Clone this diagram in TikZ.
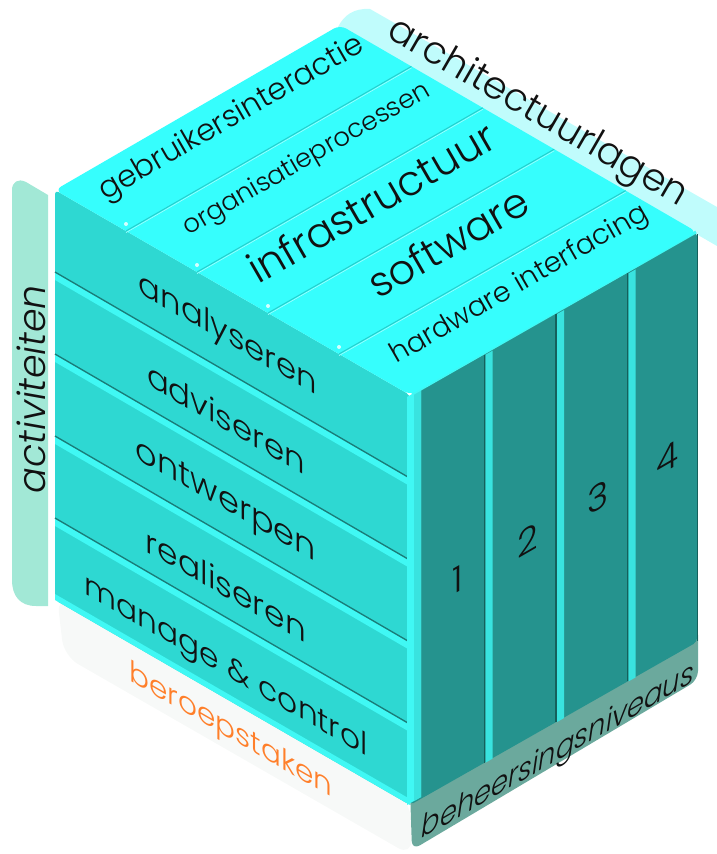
\documentclass[tikz,border=0pt]{standalone}
\usepackage{fontspec}
\setmainfont{Poppins}[UprightFont={* Light}, ItalicFont={* Light Italic}]
\usepackage{graphicx}
\newcommand{\fitw}[2]{\resizebox{#1pt}{!}{#2}}
\definecolor{topc}{HTML}{36FEFD}
\definecolor{leftc}{HTML}{2ED8D2}
\definecolor{lipc}{HTML}{40F8F4}
\definecolor{sepc}{HTML}{1A7C78}
\definecolor{rightc}{HTML}{25938E}
\definecolor{rlipc}{HTML}{39E3DF}
\definecolor{rdark}{HTML}{15605C}
\definecolor{behc}{HTML}{6BA99D}
\definecolor{archc}{HTML}{C0FCFC}
\definecolor{actc}{HTML}{A2E8D6}
\definecolor{shadc}{HTML}{F7F9F8}
\definecolor{orangec}{HTML}{FF7F2A}
\definecolor{divc}{HTML}{25CFCD}
\definecolor{txtc}{HTML}{111111}
\tikzset{
  lbl/.style={inner sep=0pt, text=txtc},
  leftlbl/.style={lbl, yslant=-0.577},
  rightlbl/.style={lbl, yslant=0.577},
  toplbl/.style={lbl, rotate=30},
  seprow/.style={draw=sepc, line width=1.3pt},
  divline/.style={draw=divc, line width=1pt},
  coldark/.style={draw=rdark, line width=1.4pt},
}
\begin{document}
\begin{tikzpicture}[x=1pt,y=-1pt]
\useasboundingbox (0,0) rectangle (717,854);

% shadow band below left face (beroepstaken)
\fill[shadc, rounded corners=16] (57,596) -- (410,801) -- (412,856) -- (64,656) -- cycle;

% activiteiten bar
\fill[actc] (48,195) -- (48,606) -- (36,606) .. controls (20,606) and (12,596) .. (12,580)
  -- (12,190) .. controls (12,182) and (18,178) .. (26,182) -- cycle;

% architectuurlagen band
\fill[archc] (338,27) .. controls (344,15) and (354,8) .. (370,9) -- (717,207) -- (717,246) -- cycle;

% beheersingsniveaus band
\fill[behc, rounded corners=9] (410,790) -- (698,626) -- (698,680) -- (412,850) -- cycle;

% cube faces
\coordinate (L) at (55,190);
\coordinate (B) at (340,25);
\coordinate (R) at (697,232);
\coordinate (F) at (410,395);
\coordinate (Lb) at (55,600);
\coordinate (Fb) at (410,805);
\coordinate (Rb) at (697,642);

\fill[leftc, rounded corners=4] (L) -- (F) -- (Fb) -- (Lb) -- cycle;
\fill[rightc, rounded corners=4] (F) -- (R) -- (Rb) -- (Fb) -- cycle;

% left face rows
\foreach \k in {1,2,3,4}{
  \fill[lipc] (55,{191+82*\k}) -- (408,{396+82*\k}) -- (408,{403+82*\k}) -- (55,{198+82*\k}) -- cycle;
  \draw[seprow] (55,{190+82*\k}) -- (408,{395+82*\k});
}
% bottom lip of left face
\fill[lipc] (55,594) -- (410,799) -- (410,805) -- (55,600) -- cycle;

% front vertical edge bevel
\fill[lipc] (407,397) -- (421,389) -- (421,797) -- (407,805) -- cycle;
\fill[rlipc] (414,393) -- (421,389) -- (421,797) -- (414,801) -- cycle;

% right face columns
\foreach \j in {1,2,3}{
  \pgfmathsetmacro{\xa}{413+71.5*\j}
  \pgfmathsetmacro{\ya}{395-(\xa-410)*0.568}
  \fill[rlipc] (\xa+1,\ya+2) -- (\xa+8,\ya-2) -- (\xa+8,\ya+406) -- (\xa+1,\ya+410) -- cycle;
  \draw[coldark] (\xa,\ya+2) -- (\xa,\ya+410);
}
\draw[rdark, line width=0.8pt] (697,234) -- (697,641);
% top edge highlight of right face
\draw[lipc, line width=3pt] (412,394) -- (696,232);

% top face
\fill[topc, rounded corners=7] (L) -- (B) -- (R) -- (F) -- cycle;
\foreach \k in {1,2,3,4}{
  \draw[divline] ({55+71*\k},{190+41*\k}) -- ({340+71.4*\k},{25+41.4*\k});
  \draw[white!55!topc, line width=0.6pt] ({55+71*\k},{191.6+41*\k}) -- ({340+71.4*\k},{26.6+41.4*\k});
  \fill[white, opacity=0.8] ({55+71*\k},{183+41*\k}) circle (2);
}

% top face labels
\node[toplbl] (t1) at (232,119) {\fitw{300}{gebruikersinteractie}};
\node[toplbl] (t2) at (307,160) {\fitw{280}{organisatieprocessen}};
\node[toplbl] (t3) at (371,202) {\fitw{278}{infrastructuur}};
\node[toplbl] (t4) at (448,242) {\fitw{178}{software}};
\node[toplbl] (t5) at (520,285) {\fitw{292}{hardware interfacing}};

% architectuurlagen
\node[lbl, rotate=-30] (arch) at (537,114) {\fitw{340}{architectuurlagen}};

% left face labels
\node[leftlbl] (a1) at (228,336) {\fitw{178}{analyseren}};
\node[leftlbl] (a2) at (226,418) {\fitw{158}{adviseren}};
\node[leftlbl] (a3) at (226,503) {\fitw{180}{ontwerpen}};
\node[leftlbl] (a4) at (226,585) {\fitw{160}{realiseren}};
\node[leftlbl] (a5) at (226,668) {\fitw{283}{manage \& control}};

% beroepstaken
\node[lbl, yslant=-0.577, text=orangec] (ber) at (231,732) {\fitw{203}{beroepstaken}};

% activiteiten
\node[lbl, rotate=90] (act) at (31,389) {\fitw{208}{\itshape activiteiten}};

% beheersingsniveaus
\node[rightlbl] (beh) at (558,753) {\resizebox{272pt}{23pt}{\itshape beheersingsniveaus}};

% column numbers
\node[rightlbl, font=\fontsize{36}{36}\selectfont] (n1) at (458,580) {1};
\node[rightlbl, font=\fontsize{36}{36}\selectfont] (n2) at (528,540) {2};
\node[rightlbl, font=\fontsize{36}{36}\selectfont] (n3) at (598,497) {3};
\node[rightlbl, font=\fontsize{36}{36}\selectfont] (n4) at (668,458) {4};
\end{tikzpicture}
\end{document}
